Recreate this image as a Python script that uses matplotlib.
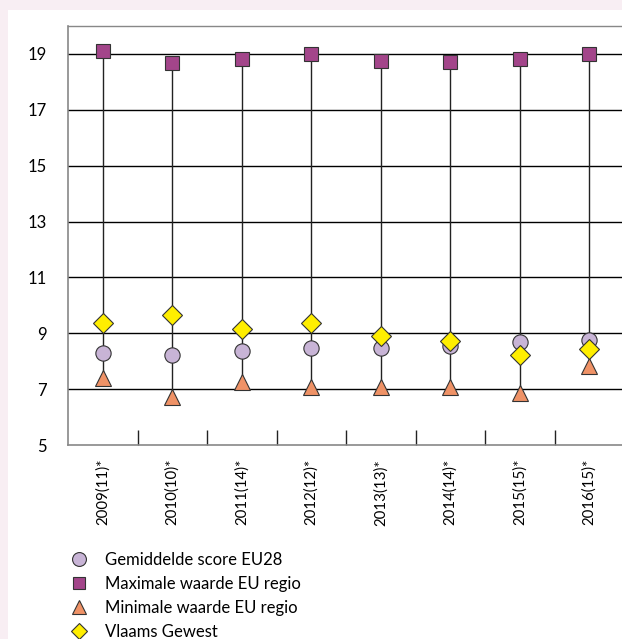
import matplotlib.pyplot as plt
from matplotlib.lines import Line2D
from matplotlib.patches import Rectangle
import numpy as np

years = ['2009(11)*', '2010(10)*', '2011(14)*', '2012(12)*',
         '2013(13)*', '2014(14)*', '2015(15)*', '2016(15)*']
gem_eu28 = [8.31, 8.23, 8.37, 8.47, 8.47, 8.55, 8.68, 8.76]
max_regio = [19.12, 18.69, 18.83, 19.0, 18.73, 18.7, 18.83, 19.0]
min_regio = [7.40, 6.72, 7.26, 7.06, 7.06, 7.06, 6.86, 7.83]
vlaams = [9.37, 9.66, 9.15, 9.37, 8.91, 8.74, 8.23, 8.44]
labels = ['Gemiddelde score EU28', 'Maximale waarde EU regio',
          'Minimale waarde EU regio', 'Vlaams Gewest']

plt.rcParams['font.family'] = ['Lato', 'DejaVu Sans']

fig = plt.figure(figsize=(6.22, 6.39), dpi=100)
fig.patch.set_facecolor('#f8eef3')
fig.patches.append(Rectangle((8 / 622, 0), 1, 1 - 10 / 639, transform=fig.transFigure,
                             facecolor='white', edgecolor='none', zorder=-5))

ax = fig.add_axes([68 / 622, 1 - 445 / 639, 556 / 622, (445 - 26) / 639])
ax.set_facecolor('white')
x = np.arange(len(years))

ax.set_ylim(5, 20)
ax.set_xlim(-0.5, len(years) - 0.5)
for v in range(7, 20, 2):
    ax.axhline(v, color='black', lw=1, zorder=1)

ax.vlines(x, min_regio, max_regio, color='#222222', lw=1, zorder=2)

ms = 11
ax.plot(x, gem_eu28, 'o', ms=ms, mfc='#c8b4d6', mec='#333333', mew=0.8, ls='none', zorder=3)
ax.plot(x, max_regio, 's', ms=ms - 1, mfc='#a3458a', mec='#333333', mew=0.8, ls='none', zorder=3)
ax.plot(x, min_regio, '^', ms=ms + 1, mfc='#ef9266', mec='#333333', mew=0.8, ls='none', zorder=3)
ax.plot(x, vlaams, 'D', ms=ms - 1, mfc='#ffee00', mec='#333333', mew=0.8, ls='none', zorder=4)

ax.set_yticks(range(5, 20, 2))
ax.tick_params(axis='y', length=0, pad=15, labelsize=12)
ax.set_xticks(x)
ax.set_xticklabels(years, rotation=90, fontsize=10.8)
ax.tick_params(axis='x', length=0, pad=10)
ax.set_xticks(np.arange(0.5, len(years) - 1, 1), minor=True)
ax.tick_params(axis='x', which='minor', direction='in', length=11, color='#222222', width=1)

for s in ['left', 'bottom']:
    ax.spines[s].set_color('#888888')
    ax.spines[s].set_linewidth(1.2)
ax.spines['right'].set_visible(False)
ax.spines['top'].set_color('#888888')
ax.spines['top'].set_linestyle((0, (1, 1)))
ax.spines['top'].set_linewidth(1.0)

handles = [
    Line2D([], [], marker='o', ls='none', ms=10, mfc='#c8b4d6', mec='#333333', mew=0.8),
    Line2D([], [], marker='s', ls='none', ms=9, mfc='#a3458a', mec='#333333', mew=0.8),
    Line2D([], [], marker='^', ls='none', ms=10, mfc='#ef9266', mec='#333333', mew=0.8),
    Line2D([], [], marker='D', ls='none', ms=8, mfc='#ffee00', mec='#333333', mew=0.8),
]
fig.legend(handles, labels, loc='upper left', bbox_to_anchor=(62 / 622, 1 - 545 / 639),
           frameon=False, fontsize=12, labelspacing=0.48, handletextpad=1.0,
           handlelength=1.2, borderaxespad=0)

fig.savefig('out.png', dpi=100, facecolor=fig.get_facecolor())
